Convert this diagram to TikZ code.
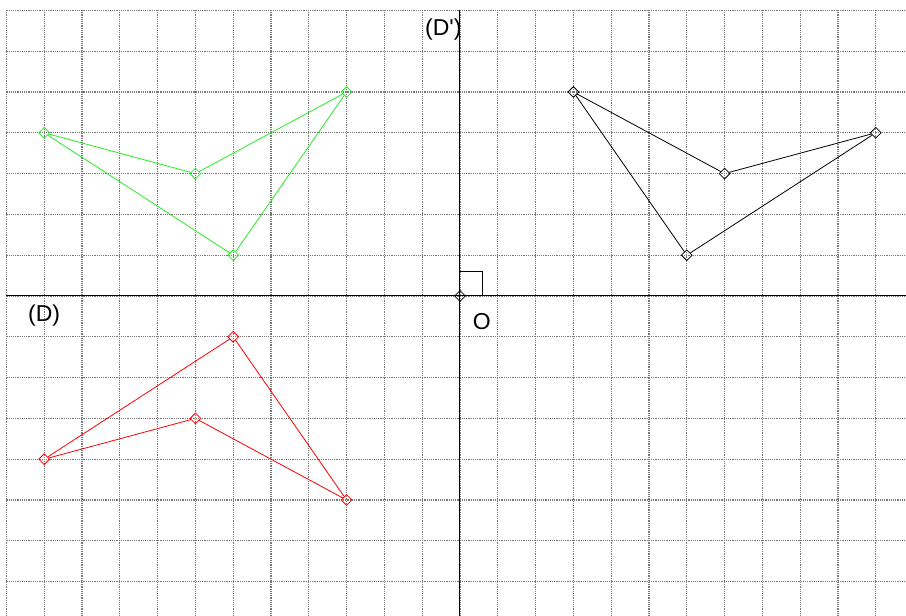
\documentclass[tikz,border=0pt]{standalone}
\usepackage{fontspec}
\setmainfont{Liberation Sans}
\usetikzlibrary{shapes.geometric}
\definecolor{gridgray}{RGB}{120,120,120}
\definecolor{vgreen}{RGB}{40,235,40}
\tikzset{
  pt/.style={diamond,draw=#1,minimum size=11pt,inner sep=0pt,line width=0.8pt},
  edge/.style={draw=#1,line width=0.8pt},
  lbl/.style={font=\fontsize{23}{26}\selectfont,inner sep=0pt}
}
\begin{document}
\begin{tikzpicture}[x=37.8pt,y=40.8pt]
\useasboundingbox (-460pt,-320pt) rectangle (446pt,296pt);
\fill[white] (-460pt,-320pt) rectangle (446pt,296pt);
% grid
\draw[gridgray,densely dotted,line width=1.2pt,step={(1,1)}] (-12,-7.9) grid (11.9,7);
% axes
\draw[black,line width=1pt] (-12,0) -- (446pt,0);
\draw[black,line width=1pt] (0,7) -- (0,-320pt);
% right angle mark
\draw[black,line width=0.8pt] (0,0.6) -- (0.6,0.6) -- (0.6,0);
% origin
\node[pt=black] (O) at (0,0) {};
\node[lbl] (Olbl) at (0.58,-0.63) {O};
\node[lbl] (Dp) at (-0.44,6.52) {(D\textquotesingle)};
\node[lbl] (D) at (-11.0,-0.47) {(D)};
% black figure
\node[pt=black] (b1) at (3,5) {};
\node[pt=black] (b2) at (7,3) {};
\node[pt=black] (b3) at (11,4) {};
\node[pt=black] (b4) at (6,1) {};
\draw[edge=black] (b1) -- (b2) -- (b3) -- (b4) -- (b1);
% green figure
\node[pt=vgreen] (g1) at (-11,4) {};
\node[pt=vgreen] (g2) at (-7,3) {};
\node[pt=vgreen] (g3) at (-3,5) {};
\node[pt=vgreen] (g4) at (-6,1) {};
\draw[edge=vgreen] (g1) -- (g2) -- (g3) -- (g4) -- (g1);
% red figure
\node[pt=red] (r1) at (-11,-4) {};
\node[pt=red] (r2) at (-7,-3) {};
\node[pt=red] (r3) at (-3,-5) {};
\node[pt=red] (r4) at (-6,-1) {};
\draw[edge=red] (r1) -- (r2) -- (r3) -- (r4) -- (r1);
\end{tikzpicture}
\end{document}
